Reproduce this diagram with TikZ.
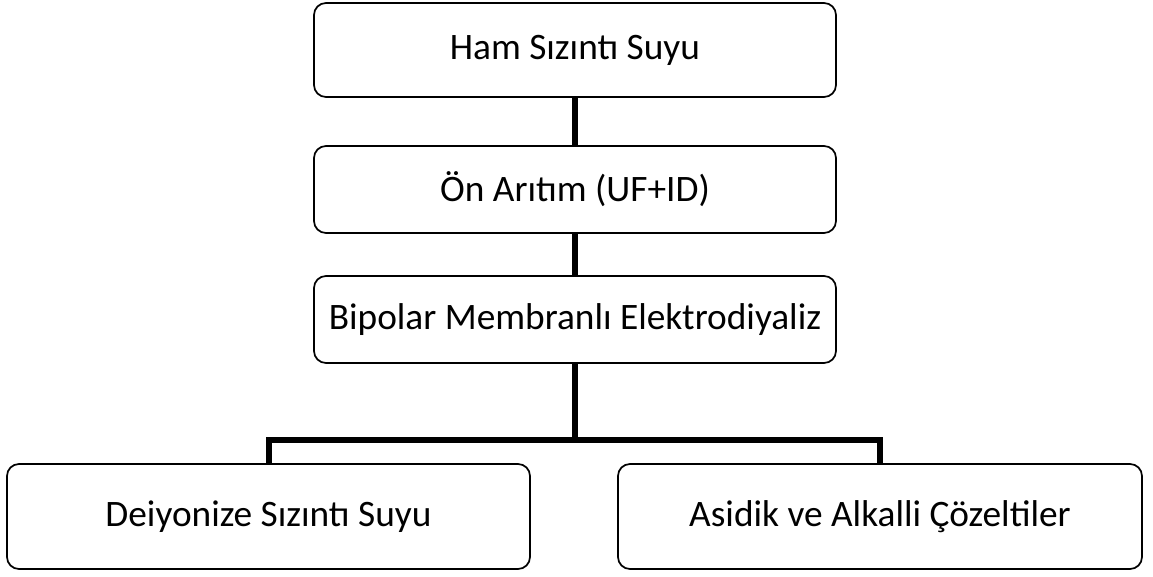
\documentclass[tikz,border=0pt]{standalone}
\usepackage{fontspec}
\setmainfont{Carlito}
\usetikzlibrary{positioning}

\tikzset{every picture/.style={line width=0.75pt}}
\tikzset{
  flowbox/.style={draw, rounded corners=9pt, line width=1.3pt, fill=white,
    align=center, inner sep=0pt, font=\fontsize{28}{32}\selectfont},
  linkline/.style={line width=4.5pt}
}
\def \midX {575}
\def \boxW {391.5pt}
\def \upperH {65.25pt}
\def \lowerH {78.75pt}

\begin{document}
\begin{tikzpicture}[x=0.75pt,y=0.75pt,yscale=-1,xscale=1]
	\useasboundingbox (0,0) rectangle (1153,576);

	% Upper chain
	\node [flowbox, minimum width=\boxW, minimum height=70.5pt] (ham) at (\midX,50) {Ham Sızıntı Suyu};
	\node [flowbox, minimum width=\boxW, minimum height=\upperH] (onaritim) at (\midX,189.5) {Ön Arıtım (UF+ID)};
	\node [flowbox, minimum width=\boxW, minimum height=\upperH] (bpmed) at (\midX,319.5) {Bipolar Membranlı Elektrodiyaliz};

	% Outputs
	\node [flowbox, minimum width=392.25pt, minimum height=\lowerH] (deiyon) at (268.5,516.5) {Deiyonize Sızıntı Suyu};
	\node [flowbox, minimum width=393pt, minimum height=\lowerH] (asidik) at (880,516.5) {Asidik ve Alkalli Çözeltiler};

	% Links
	\coordinate (split) at (\midX,439.5);
	\draw [linkline] (ham.south) -- (onaritim.north);
	\draw [linkline] (onaritim.south) -- (bpmed.north);
	\draw [linkline] (bpmed.south) -- (split);
	\draw [linkline] (deiyon.north) |- (split) -| (asidik.north);

\end{tikzpicture}
\end{document}
